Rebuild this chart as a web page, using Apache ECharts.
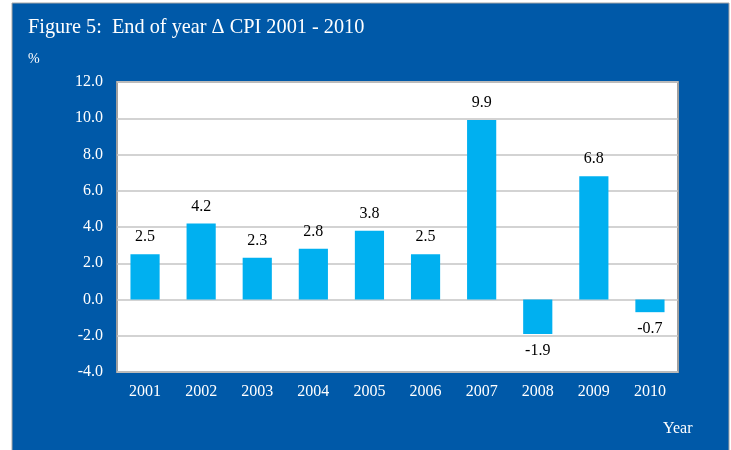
<!DOCTYPE html>
<html>
<head>
<meta charset="utf-8">
<script src="https://cdn.jsdelivr.net/npm/echarts@6/dist/echarts.min.js"></script>
<style>
  html, body { margin: 0; padding: 0; background: #fff; }
  #chart { width: 731px; height: 450px; }
</style>
</head>
<body>
<div id="chart"></div>
<script>
const years = ['2001', '2002', '2003', '2004', '2005', '2006', '2007', '2008', '2009', '2010'];
const cpiChange = [2.5, 4.2, 2.3, 2.8, 3.8, 2.5, 9.9, -1.9, 6.8, -0.7];

const font = 'Liberation Serif, Times New Roman, serif';
const chart = echarts.init(document.getElementById('chart'));

chart.setOption({
  backgroundColor: '#fff',
  animation: false,
  graphic: [
    {
      type: 'rect',
      z: -10,
      shape: { x: 12, y: 3, width: 717, height: 450 },
      style: { fill: '#0059a8', stroke: '#a6a6a6', lineWidth: 1 }
    },
    {
      type: 'text', left: 28, top: 18,
      style: { text: 'Figure 5:  End of year \u0394 CPI 2001 - 2010', fill: '#fff', font: '20.3px ' + font }
    },
    {
      type: 'text', left: 28, top: 52,
      style: { text: '%', fill: '#fff', font: '14px ' + font }
    },
    {
      type: 'text', left: 663, top: 421,
      style: { text: 'Year', fill: '#fff', font: '16px ' + font }
    }
  ],
  grid: {
    left: 117, top: 82, right: 53, bottom: 78,
    show: true, backgroundColor: '#fff', borderColor: '#a0a0a0', borderWidth: 2
  },
  xAxis: {
    type: 'category',
    data: years,
    axisLine: { show: false },
    axisTick: { show: false },
    axisLabel: { color: '#fff', fontFamily: font, fontSize: 16, margin: 12 }
  },
  yAxis: {
    type: 'value',
    min: -4, max: 12, interval: 2,
    axisLine: { show: false },
    axisTick: { show: false },
    splitLine: { lineStyle: { color: '#c4c4c4', width: 1.5 } },
    axisLabel: {
      color: '#fff', fontFamily: font, fontSize: 16, margin: 14,
      formatter: v => v.toFixed(1)
    }
  },
  series: [{
    type: 'bar',
    barWidth: '52%',
    itemStyle: { color: '#00b0f0' },
    data: cpiChange.map(v => ({
      value: v,
      label: { position: v < 0 ? 'bottom' : 'top' }
    })),
    label: {
      show: true,
      distance: 9,
      color: '#000',
      fontFamily: font,
      fontSize: 16,
      formatter: p => p.value.toFixed(1)
    }
  }]
});
</script>
</body>
</html>
